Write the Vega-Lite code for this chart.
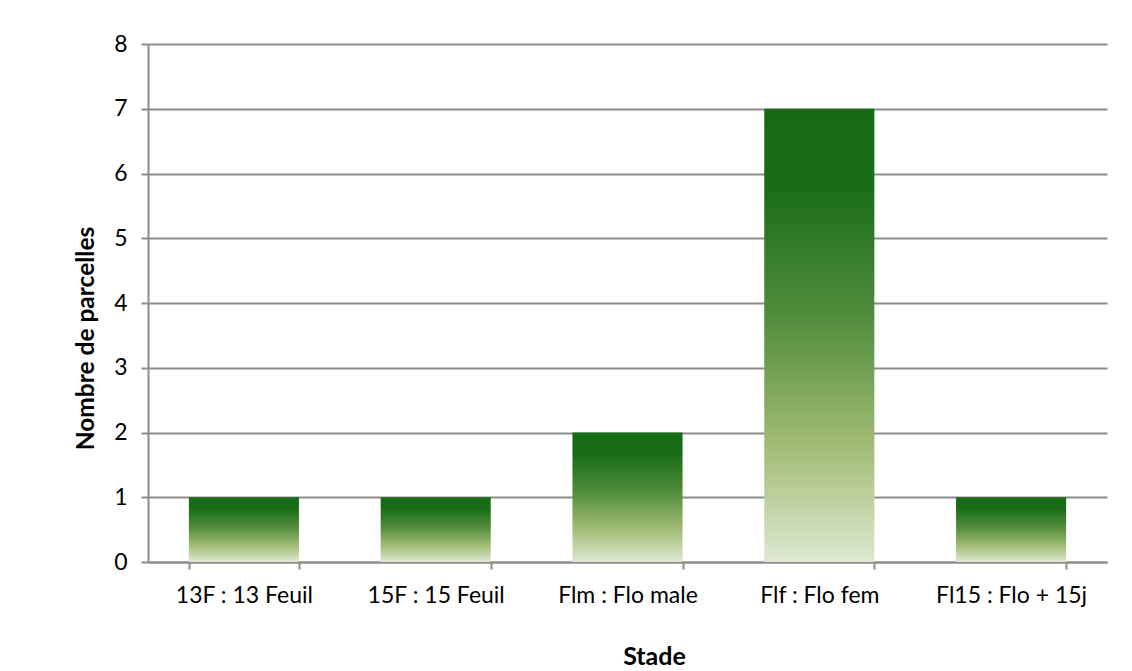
{
  "$schema": "https://vega.github.io/schema/vega-lite/v6.json",
  "autosize": "none",
  "width": 959,
  "height": 518,
  "padding": {"left": 148, "top": 44, "right": 25, "bottom": 109},
  "background": "white",
  "config": {
    "view": {"stroke": null},
    "font": "Lato"
  },
  "data": {
    "values": [
      {"stade": "13F : 13 Feuil", "n": 1},
      {"stade": "15F : 15 Feuil", "n": 1},
      {"stade": "Flm : Flo male", "n": 2},
      {"stade": "Flf : Flo fem", "n": 7},
      {"stade": "Fl15 : Flo + 15j", "n": 1}
    ]
  },
  "mark": {
    "type": "bar",
    "color": {
      "gradient": "linear",
      "x1": 0, "y1": 0, "x2": 0, "y2": 1,
      "stops": [
        {"offset": 0, "color": "#176b14"},
        {"offset": 0.17, "color": "#196d16"},
        {"offset": 0.45, "color": "#4f8b3a"},
        {"offset": 0.75, "color": "#a3bd77"},
        {"offset": 1, "color": "#dee9d2"}
      ]
    }
  },
  "encoding": {
    "x": {
      "field": "stade",
      "type": "nominal",
      "sort": null,
      "scale": {"paddingInner": 0.426, "paddingOuter": 0.213},
      "axis": {
        "title": "Stade",
        "titleFont": "Lato",
        "titleFontSize": 25,
        "titleFontWeight": "bold",
        "titleColor": "#000000",
        "titleX": 506,
        "titleY": 102,
        "titleBaseline": "alphabetic",
        "labelAngle": 0,
        "labelFont": "Lato",
        "labelFontSize": 23,
        "labelColor": "#000000",
        "labelPadding": 15,
        "domainColor": "#8c8c8c",
        "domainWidth": 2,
        "tickColor": "#8c8c8c",
        "tickWidth": 2,
        "tickSize": 7,
        "tickBand": "extent",
        "grid": false
      }
    },
    "y": {
      "field": "n",
      "type": "quantitative",
      "scale": {"domain": [0, 8]},
      "axis": {
        "title": "Nombre de parcelles",
        "titleFont": "Lato",
        "titleFontSize": 24.5,
        "titleFontWeight": "bold",
        "titleColor": "#000000",
        "titleX": -55,
        "titleY": 294,
        "titleBaseline": "alphabetic",
        "titleAngle": -90,
        "titleAlign": "center",
        "values": [0, 1, 2, 3, 4, 5, 6, 7, 8],
        "labelFont": "Lato",
        "labelFontSize": 23,
        "labelColor": "#000000",
        "labelPadding": 14,
        "domainColor": "#8c8c8c",
        "domainWidth": 2,
        "tickColor": "#8c8c8c",
        "tickWidth": 2,
        "tickSize": 7,
        "grid": true,
        "gridColor": "#8c8c8c",
        "gridWidth": 2
      }
    }
  }
}
